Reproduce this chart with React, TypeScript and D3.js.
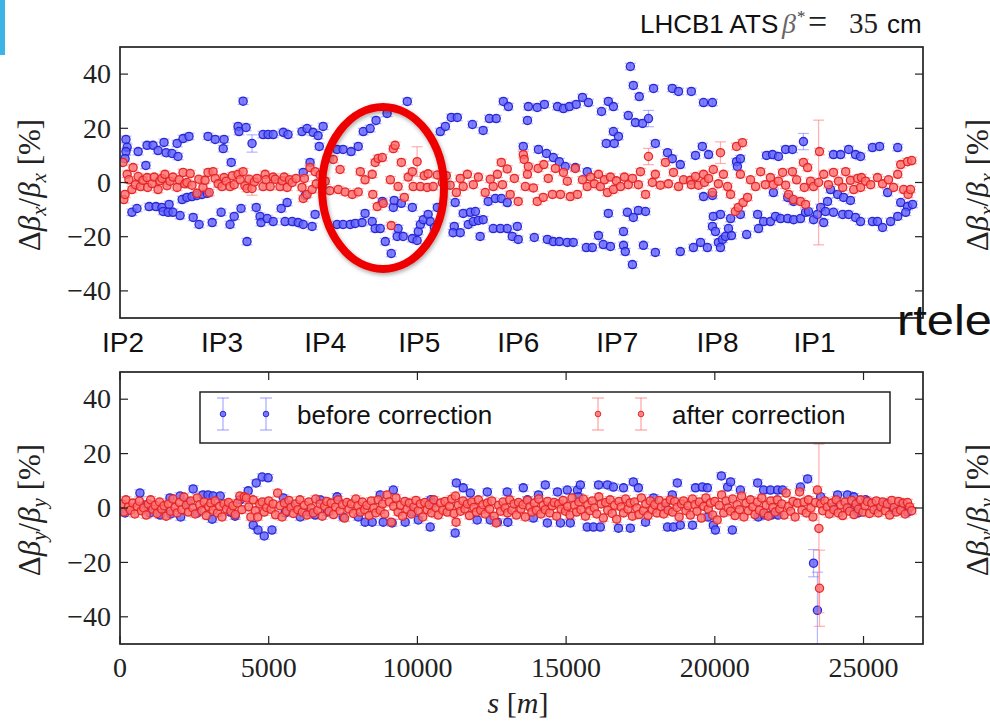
import React from 'react';
import * as d3 from 'd3';

const W = 990, H = 722;

// ---- axis / label data ----
const yTicks = [-40, -20, 0, 20, 40];
const xTicks = [0, 5000, 10000, 15000, 20000, 25000];
const ipLabels = ['IP2', 'IP3', 'IP4', 'IP5', 'IP6', 'IP7', 'IP8', 'IP1'];
const ipPositions = [100, 3430, 6900, 10060, 13390, 16720, 20090, 23350];
const legendLabels = ['before correction', 'after correction'];

// ---- Δβx/βx before correction  [s (m), value (%), error] ----
const betaxBefore: number[][] = [
  [200,15.9],[240,13],[200,11.4],[170,8.8],[610,11.4],[870,6.3],[910,13.7],[1110,13.7],[1280,11.8],[1480,14.8],[1550,11],[1750,10.7],[1950,9.6],[1920,14.4],[2120,16.2],[2320,17],[2960,17],[3200,15.9],[3470,12.5],[3500,15.9],[3740,7.4],[3970,20.7],[4000,18.8],[4140,30],[4240,20.3],[4440,14.4,3.2],[4810,17.7],[4980,17.7],[5150,17.7],[5490,18.5],[5650,17.7],[6120,18.8],[6290,19.9],[6490,18.5],[6660,17.3],[6830,20.7],[6700,13.3],[6390,7.4],[6160,3.7],
  [7300,12.2],[7500,12.2],[7770,11.4],[8010,13.3],[8180,18.8],[8410,19.9],[8610,22.9],[8980,25.5],[9660,29.9],[10770,18.8],[10940,20.7],[11140,24],[11340,24],[11850,21.4],[12210,19.2],[12420,23.6],[12650,23.6],[12890,29.9],[13060,28],[13700,22.9],[13730,28],[14030,27.7],[14270,28.8],[14710,28],[14910,27.3],[15110,28],[15340,28.8],[15550,31.4],[15750,29.5],[16190,26.2],[16420,29.9],[16590,28],[17160,42.8],[17260,35.8],[17460,31.7],[17940,34.7],[17090,24.7],[17330,22.1],[17570,21.8],[17770,23.6,3],[18000,14.4],[16590,18.8],[16760,17],[16350,14.4],[16620,14.4],[13560,13.3],[14070,12.2],[14340,10.7],[14570,9.2],[14770,7.7],[14970,5.9],[15310,5.5],[15710,4],
  [18570,34.7],[18780,33.6],[19210,33.6],[19620,29.5],[19920,29.5],[18410,11],[18570,8.8],[18840,6.6],[19350,10],[19580,13.3],[19790,10.3],[20730,7.7],[20860,8.8],[20760,5.9],[21740,10],[21940,10.3],[22140,9.6],[22380,12.2],[22610,12.2],[22980,15.1,3],[23990,10.3],[24230,10.3],[24500,12.2],[24730,10.3],[24900,9.6],[25300,12.9],[25540,13.3],[26150,12.9],
  [400,-11],[570,-9.6],[980,-8.9],[1210,-8.9],[1410,-9.2],[1450,-10.7],[1650,-8.1],[1620,-11],[1780,-11],[2020,-12.2],[2090,-6.3],[2250,-5.5],[2420,-5.2],[2590,-4.8],[2760,-4.4],[2930,-4],[2460,-12.9],[2660,-15.5],[3100,-14.8],[3400,-11],[3700,-15.5],[3840,-12.5],[4070,-9.6],[4270,-21.8],[4580,-9.2],[4710,-12.5],[4740,-14.8],[4950,-13.3],[5150,-14.4],[5420,-9.6],[5620,-7.4],[5550,-14.4],[5790,-14.4],[5990,-14.8],[6160,-15.5],[6460,-16.2],[6560,-11.8],[6230,-4.8],
  [7300,-15.5],[7500,-15.5],[7740,-15.5],[7910,-15.1],[8140,-14.8],[8240,-11.4],[8480,-14.4],[8580,-17],[8750,-17],[8820,-7],[8920,-21.8],[9120,-26.2],[9190,-9.2],[9220,-6.6],[9460,-7.7],[9350,-17],[9320,-19.9],[9520,-19.9],[9830,-9.2],[9830,-20.7],[9990,-21.4],[10030,-18.1],[10100,-15.5],[10200,-13.7],[10360,-11.8],[10430,-14.4],[10670,-9.2],[10570,-16.6],[11270,-7.4],[11240,-16.2],[11200,-18.5],[11440,-18.5],[11540,-11.4],[11710,-15.5],[11780,-11],[11950,-10.7],[11880,-14.4],[12050,-14],[12210,-13.7],[12110,-19.9],[12380,-7],[12620,-5.9],[12820,-5.9],[13020,-7.4],[12550,-17],[12790,-17],[13020,-17],[13190,-19.9],[13360,-16.2],[13390,-21],[13930,-20.3],[14370,-21],[14570,-21.8],[14770,-21.8],[15040,-22.1],[15240,-22.1],[15680,-24],[15880,-24],[16090,-19.6],[16250,-22.9],[16490,-23.6],[16420,-11.4],[16930,-18.1],[16930,-23.2],[16990,-25.5],[17230,-30.3],[17060,-11],[17260,-12.9],[17430,-10.3],[17670,-10.7],[17600,-23.2],[18000,-25.8],
  [18840,-25.5],[19280,-24],[19520,-22.1],[19750,-24],[19920,-16.2],[20020,-18.1],[20120,-22.1],[20190,-24],[20260,-21],[20360,-19.9],[20460,-17],[20560,-19.6],[21070,-19.2],[21470,-17],[19950,-12.5],[20190,-11.8],[20530,-13.3],[20860,-11.8],[21440,-11.8],[21640,-14.4],[21870,-14.4],[22040,-12.5],[22210,-13.3],[22450,-13.3],[22650,-13.7],[22880,-13.3],[23050,-11],[23150,-10.7],[23320,-13.7],[23450,-11.8],[23560,-9.2],[23660,-14.8],[23720,-10.7],[23790,-7],[23990,-11],[24300,-11.8],[24500,-11.8],[24730,-12.9],[24900,-14.4],[25300,-14.4],[25470,-14.4],[25640,-16.6],[25910,-14.4],[26150,-12.5],[26250,-7.4],[26480,-8.9],[26650,-8.1],[26420,-11],[23890,-2.6],[24130,-4.4],[24330,-5.5],[24560,-6.6],[25810,-3.7],[22450,-5.5],[22650,-7],[21970,-3.7],[19620,-5.2],[19920,-4.8]
];

// ---- Δβx/βx after correction ----
const betaxAfter: number[][] = [
  [100,7.4],[130,-6.3],[170,-4.4],[240,3.0],[300,1.0],[400,-2.6],[440,5.5],[520,-0.8],[610,2.2],[690,-1.5],[770,0.8],[910,1.8],[930,-1.8],[1080,-0.4],[1150,2.0],[1280,-2.6],[1340,0.6],[1410,1.5],[1510,3.0],[1580,-1.2],[1680,0.5],[1780,2.0],[1920,-1.8],[1990,1.0],[2120,3.7],[2180,-0.5],[2250,0.0],[2360,3.3],[2420,-1.0],[2590,-4.0],[2650,1.2],[2790,-1.8],[2860,0.8],[2960,3.7],[3000,-3.7],[3130,4.0],[3200,1.5],[3300,-0.5],[3430,-1.5],[3500,1.8],[3570,0.5],[3700,-1.5],[3780,2.5],[3840,-0.8],[3970,3.0],[4040,1.0],[4140,4.0],[4200,-1.2],[4270,-2.2],[4340,1.2],[4440,-2.2,2.5],[4520,0.2],[4610,1.5],[4810,-1.5],[4880,3.0],[4910,1.0],[5050,-1.5],[5150,2.0],[5220,1.2],[5380,-1.5],[5450,0.6],[5520,2.0],[5620,-1.8],[5700,1.0],[5790,0.0],[5920,1.5],[6120,-1.8],[6160,-5.9],[6200,1.5],[6290,-4.4],[6390,5.5],[6460,-2.6],[6560,4.0],[6600,-0.5],[6730,2.8],[6800,-1.0],[6900,0.5],[7050,-3.0],
  [7170,8.5],[7340,-2.6],[7400,4.8],[7570,-3.5],[7810,-4.4],[8010,-3.5],[8080,4.0],[8240,1.0],[8480,3.0],[8500,-4.4],[8580,7.4],[8650,-8.9],[8680,8.9],[8820,9.2],[8850,-7.7],[9120,-15.9],[9090,1.0],[9190,12.5],[9250,13.7],[9350,-1.5],[9460,7.4],[9560,-5.5],[9690,2.0],[9830,4.0],[9860,-1.5],[9990,7.7,5.5],[10100,-1.5],[10230,2.5],[10330,-1.8],[10360,3.2],[10530,-1.5],[10670,2.8],[10840,0.0],[10970,2.5],[11100,-1.0],
  [11310,-3.7],[11440,1.5],[11540,-1.5],[11680,3.0],[11880,-0.8],[12050,2.0],[12280,-3.7],[12450,1.2],[12550,-1.5],[12690,3.0],[12820,7.4],[12860,-0.8],[13020,5.0],[13120,-4.4],[13260,1.5],[13390,-7.0],[13560,10.3],[13590,8.5],[13630,-1.5],[13700,3.0],[13730,5.9],[13900,-2.0],[14030,-7.0],[14060,5.2],[14230,-5.5],[14250,6.6],[14400,1.5],[14540,-4.4],[14640,5.2],[14810,-4.4],[14910,3.7],[15040,0.5],[15140,-5.2],[15310,5.2],[15380,-4.4],[15550,1.0],[15710,-1.5],[15820,2.0],[15950,-0.5],[16090,3.0],[16150,-1.5],[16290,1.0],[16390,-3.7],[16490,2.0],[16590,-2.6],[16690,0.6],[16830,-1.5],[16960,2.0],[17090,-0.8],[17230,1.5],[17430,-0.8],[17500,4.0],[17670,-4.4],[17770,9.6,3],[17900,0.0],[18000,3.0],[18170,-1.0],[18340,7.4],[18440,-0.5],[18610,3.7],[18780,-1.5],[18950,1.0],[19180,0.8],[19210,-0.8],[19350,2.2],[19450,-1.0],[19620,3.0],[19650,0.0],[19790,1.5],[19920,-3.7],[19950,4.8],[20120,-0.5],[20190,11.0,4],[20290,3.0],[20430,-1.5],[20530,-4.4],[20690,-10.7],[20730,13.3],[20790,-9.2],[20860,3.0],[20930,14.7],[20950,-7.4],[21100,-5.5],[21200,1.0],[21370,-1.5],[21540,4.0],[21700,-0.8],[21870,1.8],[21970,-0.8],[22140,0.5],[22280,3.7],[22380,-1.0],[22480,-4.4],[22610,4.0],[22640,-6.3],[22750,1.0],[22880,-7.0],[22980,7.4],[23010,-1.8],[23050,-8.1],[23120,5.5],[23220,0.5],[23320,-1.5],[23490,0.0,23],[23520,11.4],[23660,3.0],[23820,-0.8],[23990,3.7],[24160,0.5],[24300,-1.8],[24400,4.0],[24560,0.8],[24670,-2.6],[24800,1.5],[24900,-1.8],[24930,1.8],[25070,0.5],[25240,-0.8],[25470,1.8],[25640,-0.5],[25840,1.0],[26010,-1.8],[26150,3.0],[26250,6.6],[26350,-2.6],[26480,7.7],[26500,-4.4],[26580,-2.6],[26620,8.1]
];

// ---- Δβy/βy before correction ----
const betayBefore: number[][] = [
  [170,-1.8],[670,5.5],[1010,-1.8],[1350,-2.6],[1680,3.7],[1700,-2.2],[2020,4.4],[2040,-3.3],[2460,7.0],[2590,-1.8],[2790,4.8],[2960,4.8],[3130,4.4],[3370,4.4],[3100,-4.1],[3700,-1.5],[4310,6.3],[4580,9.2],[4780,11.4],[4980,11.1],[4480,-6.3],[4640,-8.1],[4850,-10.3],[5110,-8.1],[5490,3.7],[5550,-1.8],[6060,-3.3],[6330,-1.5],[6560,-2.6],[6970,-1.5],[840,1.1],[2290,2.2],[4040,3.0],[3870,-3.0],[5720,1.1],[6730,3.0],
  [7300,4.1],[7500,-3.3],[8010,-3.3],[8240,-5.2],[8480,-5.2],[8750,4.8],[8850,-5.2],[9190,6.6],[9150,-5.5],[9590,-5.2],[9830,-1.5],[10030,-4.4],[10430,-7.0],[10450,3.0],[10530,1.8],[11310,9.2],[11540,7.4],[11780,5.5],[11270,-9.2],[12010,-4.4],[12350,5.9],[12450,-4.4],[12690,-5.2],[13020,5.9],[13040,-5.2],[13560,7.4],[13700,3.0],[13900,-3.7],[14070,4.8],[14300,8.5],[14370,-5.5],[14710,5.9],[14810,-5.5],[15040,6.6],[15140,-5.5],[15380,6.6],[15410,4.1],[15480,8.5],[15710,-7.0],[15920,-7.0],[16150,-7.0],[16090,8.5],[16390,8.5],[16590,7.7],[16760,-7.4],[16930,7.4],[17260,9.6],[17430,7.4],[17160,-7.4],[17670,-5.2],[17940,3.7],
  [18740,9.2],[18570,4.8],[18340,0.4],[18410,-7.0],[18610,-7.0],[18840,-6.3],[19250,-6.3],[19350,7.4],[19580,7.7],[19750,7.4],[19770,-3.3],[19950,-6.3],[20020,-8.1],[20220,11.8],[20430,7.7],[20530,9.6],[20590,-8.1],[20860,6.6],[21440,9.2],[21640,6.6],[21870,6.6],[22110,6.6],[22280,6.6],[21460,-3.3],[21660,-2.6],[21890,-2.6],[22130,-2.6],[22880,7.7],[23120,10.7],[23320,-20.3,5],[23450,-37.6,14],[23560,4.1],[24130,4.8],[24460,4.8],[24670,4.1],[23990,0.4],[24480,0.4],[24800,0.4],[24820,-1.8],[25470,0.0],[26010,-0.7],[26480,-1.5],[25070,3.0],[25740,1.8],[26250,1.1]
];

// ---- Δβy/βy after correction ----
const betayAfter: number[][] = [
  [60,1.5],[130,-1.5],[200,3.0],[280,0.4],[350,-0.8],[430,1.8],[500,-2.2],[580,0.6],[650,2.5],[720,-1.0],[800,0.0],[880,-2.6],[950,1.5],[1030,3.0],[1100,-0.5],[1180,1.0],[1250,-2.0],[1330,2.2],[1400,-0.4],[1480,0.8],[1550,-3.0],[1630,1.5],[1700,-1.2],[1780,3.3],[1850,0.2],[1920,-1.8],[2000,2.0],[2080,-0.6],[2150,4.0],[2230,1.0],[2300,-1.5],[2380,2.6],[2450,0.0],[2530,-2.2],[2600,3.7],[2680,1.2],[2750,-1.0],[2830,2.2],[2900,-2.8],[2980,0.5],[3050,1.8],[3130,-0.8],[3200,2.6],[3280,-1.8],[3350,0.6],[3430,-3.3],[3500,1.5],[3580,-0.4],[3650,2.0],[3730,-1.2],[3800,0.8],[3880,-2.4],[3950,1.8],[4030,4.4],[4100,-0.6],[4180,4.1],[4250,3.7],[4330,0.4],[4400,-3.3],[4480,3.0],[4550,-1.0],[4630,-3.3],[4700,1.5],[4780,2.2],[4850,-1.5],[4930,0.2],[5000,2.6],[5080,-0.5],[5150,1.5],[5230,-2.5],[5300,5.5],[5380,0.8],[5450,-3.3],[5530,1.8],[5600,-1.2],[5680,2.8],[5750,0.2],[5830,-2.0],[5900,1.5],[5980,-0.6],[6050,3.0],[6130,-1.5],[6200,1.0],[6280,-2.6],[6350,2.2],[6430,0.0],[6500,-1.8],[6580,3.3],[6650,-0.8],[6730,1.5],[6800,-3.0],[6880,0.6],[6950,2.4],[7030,-1.2],[7100,1.8],[7180,-2.4],[7250,0.4],[7330,3.0],[7400,-1.0],[7480,1.2],[7550,-3.7],[7630,2.0],[7700,-0.4],[7780,1.5],[7850,-2.0],[7930,3.3],[8000,0.8],[8080,-1.5],[8150,2.2],[8230,-0.6],[8300,1.0],[8380,-2.8],[8450,2.6],[8530,0.0],[8600,-1.8],[8680,3.0],[8750,-0.8],[8830,1.5],[8900,-2.2],[8980,4.8],[9050,2.2],[9120,-5.2],[9200,0.6],[9280,3.7],[9350,-1.5],[9430,1.0],[9500,-3.0],[9580,2.4],[9650,-0.4],[9730,1.8],[9800,-2.2],[9880,0.4],[9950,2.8],[10030,-1.0],[10100,1.5],[10180,-3.3],[10250,2.0],[10330,-0.6],[10400,1.2],[10480,-1.8],[10550,3.0],[10630,0.0],[10700,-2.6],[10780,1.8],[10850,-0.8],[10930,2.4],[11000,-1.5],[11080,0.6],[11150,3.3],[11230,-2.0],[11280,4.4],[11300,-5.2],[11380,1.0],[11450,-1.2],[11530,2.6],[11600,-0.4],[11680,1.5],[11750,-2.8],[11830,2.2],[11900,0.2],[11980,-1.5],[12050,3.0],[12130,-0.8],[12200,1.2],[12280,-2.2],[12350,1.8],[12430,-0.4],[12500,2.6],[12580,-3.0],[12650,-5.5],[12730,1.0],[12800,-1.2],[12880,2.2],[12950,0.0],[13030,-1.8],[13100,3.0],[13180,-0.8],[13250,1.5],[13330,-2.6],[13400,2.0],[13480,-0.4],[13550,1.2],[13630,-3.3],[13700,2.8],[13780,0.4],[13850,-1.5],[13930,1.8],[14000,-0.8],[14080,3.3],[14150,-2.2],[14230,1.0],[14300,-0.6],[14380,2.4],[14450,-1.8],[14530,0.8],[14600,2.0],[14680,-3.0],[14750,1.5],[14830,-0.4],[14900,2.8],[14980,-1.2],[15050,0.6],[15130,-2.6],[15200,3.7],[15280,1.0],[15350,-1.5],[15430,2.2],[15500,-0.6],[15580,3.3],[15650,-3.0],[15730,1.2],[15800,-1.0],[15880,2.6],[15950,0.0],[16030,-2.2],[16100,4.1],[16180,1.5],[16250,-3.7],[16330,2.0],[16400,-0.8],[16480,3.0],[16550,-2.0],[16630,1.0],[16700,-4.1],[16780,2.4],[16850,0.4],[16930,-1.8],[17000,3.3],[17080,-0.4],[17150,1.8],[17230,-3.0],[17300,2.2],[17380,0.0],[17450,-2.4],[17530,3.7],[17600,-1.0],[17680,1.5],[17750,-2.8],[17830,2.6],[17900,-0.6],[17980,1.2],[18050,-1.8],[18130,2.8],[18200,0.4],[18280,-2.2],[18350,1.8],[18430,-0.8],[18500,3.0],[18580,-1.5],[18650,2.4],[18730,0.2],[18800,-3.3],[18880,1.5],[18950,2.6],[19030,-1.0],[19100,0.8],[19180,-2.6],[19250,3.3],[19330,1.2],[19400,-1.2],[19480,2.2],[19550,-3.7],[19630,0.6],[19700,3.7],[19780,-0.4],[19850,1.8],[19930,-2.6],[20000,2.4],[20080,-4.4],[20150,1.0],[20230,4.8],[20300,-1.8],[20380,2.6],[20450,0.0],[20530,-1.2],[20600,3.3],[20680,-2.8],[20750,1.2],[20830,-0.6],[20900,4.4],[20980,-3.3],[21050,1.8],[21130,-1.0],[21200,3.0],[21280,0.4],[21350,-2.4],[21430,2.2],[21500,-0.8],[21580,3.7],[21650,-1.8],[21730,1.0],[21800,-3.0],[21880,2.6],[21950,0.2],[22030,-1.5],[22100,3.0],[22180,-0.4],[22250,1.5],[22330,-2.6],[22400,5.5],[22480,0.6],[22550,-1.2],[22630,2.4],[22700,-3.3],[22780,1.8],[22850,5.9],[22930,-0.8],[23000,2.2],[23080,-1.8],[23150,3.0],[23230,0.0],[23300,-3.3],[23380,2.0],[23450,6.6],[23500,-7.5,31],[23520,-29.5,14],[23560,1.5],[23630,-1.0],[23700,2.6],[23780,0.4],[23850,-2.2],[23930,1.8],[24000,-0.6],[24080,3.0],[24150,-1.8],[24230,1.2],[24300,-2.8],[24380,2.2],[24450,0.0],[24530,-1.2],[24600,2.8],[24680,-2.4],[24750,1.5],[24830,-0.4],[24900,3.0],[24980,-1.5],[25050,0.8],[25130,2.4],[25200,-2.0],[25280,1.8],[25350,-0.6],[25430,2.6],[25500,-1.8],[25580,0.4],[25650,2.2],[25730,-1.0],[25800,1.5],[25880,-2.6],[25950,2.8],[26030,0.2],[26100,-1.5],[26180,2.4],[26250,-0.8],[26330,1.8],[26400,-2.2],[26480,2.0],[26550,0.4],[26620,-1.0]
];

// ---- scales ----
const x = d3.scaleLinear().domain([0, 27000]).range([120, 923]);
const yTop = d3.scaleLinear().domain([-50, 50]).range([318, 47]);
const yBot = d3.scaleLinear().domain([-50, 50]).range([644, 372]);

const BLUE = { fill: 'rgba(95,95,255,0.8)', stroke: 'rgba(35,35,205,0.95)', err: 'rgba(110,110,255,0.5)' };
const RED = { fill: 'rgba(255,110,110,0.8)', stroke: 'rgba(225,35,35,0.95)', err: 'rgba(255,110,110,0.55)' };
const SERIF = '"Liberation Serif", "DejaVu Serif", serif';
const SANS = '"Liberation Sans", Arial, sans-serif';
const DEFAULT_ERR = 1.2;

function Series({ data, y, col }: { data: number[][]; y: d3.ScaleLinear<number, number>; col: typeof BLUE }) {
  return (
    <g>
      {data.map((d, i) => {
        const e = d[2] ?? DEFAULT_ERR;
        const cx = x(d[0]);
        const y1 = y(d[1] + e), y2 = y(d[1] - e);
        return (
          <g key={'e' + i} stroke={col.err} strokeWidth={1.2}>
            <line x1={cx} x2={cx} y1={y1} y2={y2} />
            <line x1={cx - 5.5} x2={cx + 5.5} y1={y1} y2={y1} />
            <line x1={cx - 5.5} x2={cx + 5.5} y1={y2} y2={y2} />
          </g>
        );
      })}
      {data.map((d, i) => (
        <circle key={'c' + i} cx={x(d[0])} cy={y(d[1])} r={4.1} fill={col.fill} stroke={col.stroke} strokeWidth={1.3} />
      ))}
    </g>
  );
}

function Frame({ y, xTickMarks }: { y: d3.ScaleLinear<number, number>; xTickMarks: boolean }) {
  const [x0, x1] = x.range();
  const [yb, yt] = y.range();
  return (
    <g>
      {yTicks.map((t) => (
        <g key={t}>
          <line x1={x0} x2={x0 + 8} y1={y(t)} y2={y(t)} stroke="#222" strokeWidth={1.2} />
          <line x1={x1} x2={x1 - 8} y1={y(t)} y2={y(t)} stroke="#222" strokeWidth={1.2} />
          <text x={x0 - 9} y={y(t)} dy="0.33em" textAnchor="end" fontFamily={SERIF} fontSize={28} fill="#222">
            {t < 0 ? '\u2212' + Math.abs(t) : String(t)}
          </text>
        </g>
      ))}
      {xTickMarks &&
        xTicks.map((t) => (
          <g key={'x' + t}>
            <line x1={x(t)} x2={x(t)} y1={yt} y2={yt + 8} stroke="#222" strokeWidth={1.2} />
            <line x1={x(t)} x2={x(t)} y1={yb} y2={yb - 8} stroke="#222" strokeWidth={1.2} />
          </g>
        ))}
      <rect x={x0} y={yt} width={x1 - x0} height={yb - yt} fill="none" stroke="#222" strokeWidth={1.7} />
    </g>
  );
}

function YLabel({ cx, cy, sub }: { cx: number; cy: number; sub: string }) {
  return (
    <text transform={`translate(${cx},${cy}) rotate(-90)`} textAnchor="middle" fontFamily={SERIF} fontSize={31} fill="#222">
      <tspan>Δ</tspan>
      <tspan fontStyle="italic">β</tspan>
      <tspan fontStyle="italic" fontSize={21} dy={6}>{sub}</tspan>
      <tspan dy={-6}>/</tspan>
      <tspan fontStyle="italic">β</tspan>
      <tspan fontStyle="italic" fontSize={21} dy={6}>{sub}</tspan>
      <tspan dy={-6}> [%]</tspan>
    </text>
  );
}

function LegendEntry({ lx, col, label }: { lx: number; col: typeof BLUE; label: string }) {
  const cy = 414;
  return (
    <g>
      {[lx, lx + 43].map((mx) => (
        <g key={mx}>
          <g stroke={col.err} strokeWidth={1.4}>
            <line x1={mx} x2={mx} y1={cy - 16} y2={cy + 16} />
            <line x1={mx - 6} x2={mx + 6} y1={cy - 16} y2={cy - 16} />
            <line x1={mx - 6} x2={mx + 6} y1={cy + 16} y2={cy + 16} />
          </g>
          <circle cx={mx} cy={cy} r={2.8} fill={col.fill} stroke={col.stroke} strokeWidth={1} />
        </g>
      ))}
      <text x={lx + 74} y={cy + 10} fontFamily={SANS} fontSize={26} fill="#111">{label}</text>
    </g>
  );
}

export default function App() {
  const [x0, x1] = x.range();
  return (
    <svg width={W} height={H} viewBox={`0 0 ${W} ${H}`} style={{ position: 'absolute', left: 0, top: 0, background: '#fff' }}>
      <defs>
        <clipPath id="clipTop"><rect x={x0} y={47} width={x1 - x0} height={271} /></clipPath>
        <clipPath id="clipBot"><rect x={x0} y={372} width={x1 - x0} height={272} /></clipPath>
        <filter id="shadow" x="-20%" y="-20%" width="140%" height="140%">
          <feDropShadow dx={1} dy={2} stdDeviation={2} floodColor="#000" floodOpacity={0.35} />
        </filter>
      </defs>
      <rect x={0} y={0} width={W} height={H} fill="#fff" />
      <rect x={0} y={0} width={5} height={55} fill="#3db4e6" />

      {/* title */}
      <text x={640} y={33} fontFamily={SANS} fontSize={26} fill="#111">LHCB1 ATS</text>
      <text x={782} y={33} fontFamily={SERIF} fontStyle="italic" fontSize={28} fill="#666">β</text>
      <text x={797} y={22} fontFamily={SERIF} fontSize={17} fill="#444">*</text>
      <text x={808} y={33} fontFamily={SERIF} fontSize={34} fill="#222">=</text>
      <text x={849} y={33} fontFamily={SERIF} fontSize={29} fill="#222">35</text>
      <text x={887} y={33} fontFamily={SANS} fontSize={26} fill="#111">cm</text>

      {/* top panel */}
      <g clipPath="url(#clipTop)">
        <Series data={betaxBefore} y={yTop} col={BLUE} />
        <Series data={betaxAfter} y={yTop} col={RED} />
      </g>
      <Frame y={yTop} xTickMarks={false} />
      <YLabel cx={40} cy={185} sub="x" />
      {ipLabels.map((l, i) => (
        <text key={l} x={x(ipPositions[i])} y={352} textAnchor="middle" fontFamily={SANS} fontSize={28} fill="#111">{l}</text>
      ))}

      {/* bottom panel */}
      <g clipPath="url(#clipBot)">
        <Series data={betayBefore} y={yBot} col={BLUE} />
        <Series data={betayAfter} y={yBot} col={RED} />
      </g>
      <Frame y={yBot} xTickMarks={true} />
      <rect x={200} y={392} width={690} height={51} fill="#fff" stroke="#222" strokeWidth={1.5} />
      <LegendEntry lx={223} col={BLUE} label={legendLabels[0]} />
      <LegendEntry lx={598} col={RED} label={legendLabels[1]} />
      <YLabel cx={40} cy={510} sub="y" />
      {xTicks.map((t) => (
        <text key={t} x={x(t)} y={677} textAnchor="middle" fontFamily={SERIF} fontSize={28} fill="#222">{String(t)}</text>
      ))}
      <text x={518} y={713} textAnchor="middle" fontFamily={SERIF} fontSize={30} fill="#222">
        <tspan fontStyle="italic">s</tspan> [<tspan fontStyle="italic">m</tspan>]
      </text>

      {/* highlight ellipse */}
      <ellipse cx={383} cy={188} rx={61} ry={81} fill="none" stroke="#ee0000" strokeWidth={8} filter="url(#shadow)" />

      {/* clipped neighbouring slide content */}
      <YLabel cx={988} cy={185} sub="x" />
      <YLabel cx={988} cy={510} sub="y" />
      <text x={897} y={335} fontFamily={SANS} fontSize={42} fill="#111" textLength={95} lengthAdjust="spacingAndGlyphs">rtele</text>
    </svg>
  );
}
